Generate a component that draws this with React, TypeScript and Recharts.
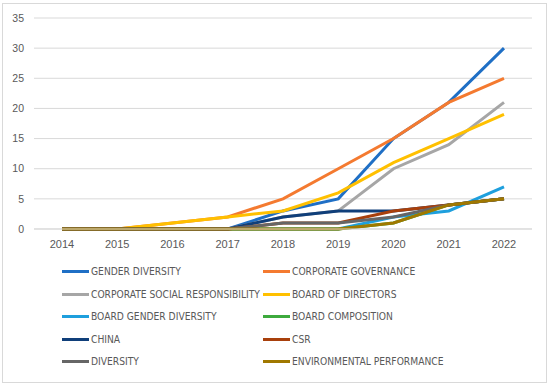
import React from "react";
import { LineChart, Line, XAxis, YAxis, CartesianGrid, Legend } from "recharts";

const years = ["2014", "2015", "2016", "2017", "2018", "2019", "2020", "2021", "2022"];
const genderDiversity = [0, 0, 0, 0, 3, 5, 15, 21, 30];
const corporateGovernance = [0, 0, 1, 2, 5, 10, 15, 21, 25];
const corporateSocialResponsibility = [0, 0, 0, 0, 2, 3, 10, 14, 21];
const boardOfDirectors = [0, 0, 1, 2, 3, 6, 11, 15, 19];
const boardGenderDiversity = [0, 0, 0, 0, 0, 0, 2, 3, 7];
const boardComposition = [0, 0, 0, 0, 0, 0, 1, 4, 5];
const china = [0, 0, 0, 0, 2, 3, 3, 4, 5];
const csr = [0, 0, 0, 0, 1, 1, 3, 4, 5];
const diversity = [0, 0, 0, 0, 1, 1, 2, 4, 5];
const environmentalPerformance = [0, 0, 0, 0, 0, 0, 1, 4, 5];
const yTicks = [0, 5, 10, 15, 20, 25, 30, 35];

const series = [
  { key: "GENDER DIVERSITY", values: genderDiversity, color: "#1F6FC5" },
  { key: "CORPORATE GOVERNANCE", values: corporateGovernance, color: "#F47A30" },
  { key: "CORPORATE SOCIAL RESPONSIBILITY", values: corporateSocialResponsibility, color: "#A6A6A6" },
  { key: "BOARD OF DIRECTORS", values: boardOfDirectors, color: "#FFC000" },
  { key: "BOARD GENDER DIVERSITY", values: boardGenderDiversity, color: "#1E9FDD" },
  { key: "BOARD COMPOSITION", values: boardComposition, color: "#3DAA3D" },
  { key: "CHINA", values: china, color: "#103F7A" },
  { key: "CSR", values: csr, color: "#A8400C" },
  { key: "DIVERSITY", values: diversity, color: "#666666" },
  { key: "ENVIRONMENTAL PERFORMANCE", values: environmentalPerformance, color: "#A07800" },
];

const data = years.map((y, i) => {
  const row: Record<string, any> = { year: y };
  series.forEach((s) => (row[s.key] = s.values[i]));
  return row;
});

const FONT = "'Liberation Sans Narrow', 'DejaVu Sans Condensed', 'Liberation Sans', Arial, sans-serif";
const TICKFONT = "'Liberation Sans', Arial, sans-serif";

const LegendContent = () => {
  return (
    <div style={{ position: "relative", width: 545, height: 118 }}>
      {series.map((p, i) => {
        const col = i % 2;
        const row = Math.floor(i / 2);
        const left = col === 0 ? 60 : 261;
        const top = 1.5 + row * 22.5;
        return (
          <div
            key={p.key}
            style={{
              position: "absolute",
              left,
              top,
              height: 22.5,
              display: "flex",
              alignItems: "center",
              whiteSpace: "nowrap",
            }}
          >
            <div style={{ width: 27, height: 3, background: p.color, marginRight: 2 }} />
            <span style={{ fontFamily: FONT, fontSize: 10.2, color: "#595959" }}>{p.key}</span>
          </div>
        );
      })}
    </div>
  );
};

export default function App() {
  return (
    <div
      style={{
        position: "absolute",
        left: 2,
        top: 3,
        width: 545,
        height: 380,
        border: "1px solid #D9D9D9",
        boxSizing: "border-box",
        background: "#fff",
      }}
    >
      <div style={{ position: "absolute", left: -1, top: -1 }}>
        <LineChart
          width={545}
          height={380}
          data={data}
          margin={{ top: 15, right: 15, left: 0, bottom: 6 }}
        >
          <CartesianGrid vertical={false} stroke="#D9D9D9" strokeWidth={1} />
          <XAxis
            dataKey="year"
            axisLine={{ stroke: "#D9D9D9" }}
            tickLine={false}
            tickSize={0}
            tickMargin={11}
            height={30}
            padding={{ left: 28, right: 28 }}
            interval={0}
            tick={{ fill: "#595959", fontSize: 11, fontFamily: TICKFONT }}
          />
          <YAxis
            domain={[0, 35]}
            ticks={yTicks}
            axisLine={false}
            tickLine={false}
            tickSize={0}
            tickMargin={10}
            width={32}
            interval={0}
            tick={{ fill: "#595959", fontSize: 10.5, fontFamily: TICKFONT }}
          />
          {series.map((s) => (
            <Line
              key={s.key}
              type="linear"
              dataKey={s.key}
              stroke={s.color}
              strokeWidth={3}
              dot={false}
              activeDot={false}
              isAnimationActive={false}
            />
          ))}
          <Legend
            verticalAlign="bottom"
            content={<LegendContent />}
            wrapperStyle={{ left: 0, width: 545 }}
          />
        </LineChart>
      </div>
    </div>
  );
}
